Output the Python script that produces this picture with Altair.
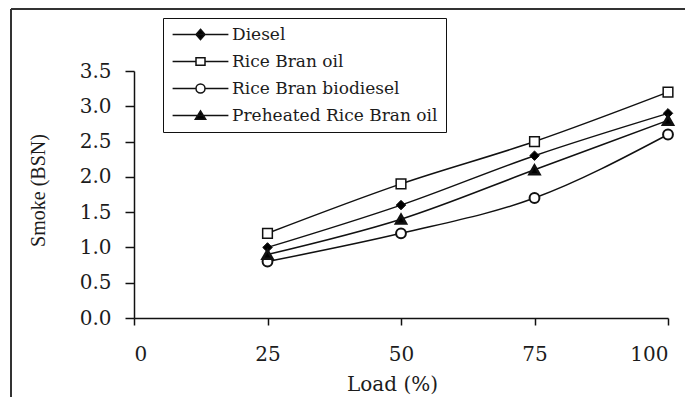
import altair as alt
import pandas as pd

# ---- data ----
loads = [25, 50, 75, 100]
series = ["Diesel", "Rice Bran oil", "Rice Bran biodiesel", "Preheated Rice Bran oil"]
diesel = [1.0, 1.6, 2.3, 2.9]
rice_bran_oil = [1.2, 1.9, 2.5, 3.2]
rice_bran_biodiesel = [0.8, 1.2, 1.7, 2.6]
preheated_rice_bran_oil = [0.9, 1.4, 2.1, 2.8]
x_ticks = [0, 25, 50, 75, 100]
y_ticks = [0.0, 0.5, 1.0, 1.5, 2.0, 2.5, 3.0, 3.5]

rows = []
for name, vals in zip(series, [diesel, rice_bran_oil, rice_bran_biodiesel, preheated_rice_bran_oil]):
    for ld, v in zip(loads, vals):
        rows.append({"Load": ld, "Smoke": v, "Fuel": name})
df = pd.DataFrame(rows)

FONT_WIDE = "DejaVu Serif"
FONT = "Liberation Serif"
INK = "#111111"
TXT = "#1c1c1c"

plot_shapes = ["diamond", "square", "circle", "triangle-up"]
fills = ["black", "white", "white", "black"]
strokes = [INK, INK, INK, INK]
sizes = [90, 100, 95, 110]
stroke_ws = [1, 2.5, 1.5, 1]

# legend symbols: marker with line stubs on both sides
legend_shapes = [
    "M-6.2,0L6.2,0M0,-1.15L1,0L0,1.15L-1,0Z",
    "M-6.2,0L-1,0M1,0L6.2,0M-1,-0.85L1,-0.85L1,0.85L-1,0.85Z",
    "M-6.2,0L-1,0M1,0L6.2,0M1,0A1,1,0,1,1,-1,0A1,1,0,1,1,1,0Z",
    "M-6.2,0L6.2,0M0,-1L1.15,0.85L-1.15,0.85Z",
]

x_enc = alt.X(
    "Load:Q",
    scale=alt.Scale(domain=[0, 100], nice=False, zero=False),
    axis=alt.Axis(
        values=x_ticks, format="d", title="Load (%)", grid=False,
        tickSize=7, labelPadding=19, labelFont=FONT_WIDE, labelFontSize=20,
        titleFont=FONT_WIDE, titleFontSize=20,
        titleX=258, titleY=72, titleBaseline="alphabetic",
    ),
)
y_enc = alt.Y(
    "Smoke:Q",
    scale=alt.Scale(domain=[0, 3.5], nice=False, zero=False),
    axis=alt.Axis(
        values=y_ticks, format=".1f", title="Smoke (BSN)", grid=False,
        tickSize=9, labelPadding=14, labelFont=FONT_WIDE, labelFontSize=20,
        titleFont=FONT, titleFontSize=20,
        titleX=-96, titleY=119, titleAngle=-90, titleBaseline="middle",
        titleAlign="center",
    ),
)

lines = alt.Chart(df).mark_line(
    color=INK, strokeWidth=1.5, interpolate="monotone"
).encode(x=x_enc, y=y_enc, detail="Fuel:N")

points = alt.Chart(df).mark_point(stroke=INK, opacity=1).encode(
    x=x_enc,
    y=y_enc,
    shape=alt.Shape("Fuel:N", scale=alt.Scale(domain=series, range=plot_shapes), legend=None),
    fill=alt.Fill("Fuel:N", scale=alt.Scale(domain=series, range=fills), legend=None),
    stroke=alt.Stroke("Fuel:N", scale=alt.Scale(domain=series, range=strokes), legend=None),
    size=alt.Size("Fuel:N", scale=alt.Scale(domain=series, range=sizes), legend=None),
    strokeWidth=alt.StrokeWidth("Fuel:N", scale=alt.Scale(domain=series, range=stroke_ws), legend=None),
)

leg = alt.Legend(
    title=None, orient="none", legendX=29, legendY=-53,
    strokeColor=INK, fillColor="white", padding=8,
    labelFont=FONT_WIDE, labelFontSize=17, labelColor=TXT,
    symbolSize=81, symbolStrokeWidth=1.5, symbolStrokeColor=INK,
    rowPadding=9, symbolOffset=21, labelOffset=23, labelLimit=400,
)

legend_layer = alt.Chart(df).transform_filter("false").mark_point(
    size=81, opacity=1, strokeWidth=1.5
).encode(
    x=x_enc,
    y=y_enc,
    shape=alt.Shape("Fuel:N", scale=alt.Scale(domain=series, range=legend_shapes), legend=leg),
    fill=alt.Fill("Fuel:N", scale=alt.Scale(domain=series, range=fills), legend=leg),
    stroke=alt.Stroke("Fuel:N", scale=alt.Scale(domain=series, range=strokes), legend=leg),
)

one = alt.Data(values=[{"k": 1}])
frame_left = alt.Chart(one).mark_rule(color="#333333", strokeWidth=2).encode(
    x=alt.value(-123), y=alt.value(-62), y2=alt.value(400)
)
frame_top = alt.Chart(one).mark_rule(color="#333333", strokeWidth=2).encode(
    x=alt.value(-123), x2=alt.value(600), y=alt.value(-62)
)

chart = alt.layer(
    frame_left, frame_top, lines, points, legend_layer
).resolve_scale(
    shape="independent", fill="independent", stroke="independent"
).properties(
    width=534, height=247,
    autosize=alt.AutoSizeParams(type="none"),
    padding={"left": 126, "top": 63, "right": 17, "bottom": 79},
    background="white",
).configure_view(
    stroke=None
).configure_axis(
    labelColor=TXT, titleColor=TXT, titleFontWeight="normal",
    domainColor=INK, domainWidth=1.5, tickColor=INK, tickWidth=1.5,
)

chart.save("out.html", embed_options={"renderer": "svg", "actions": False})
